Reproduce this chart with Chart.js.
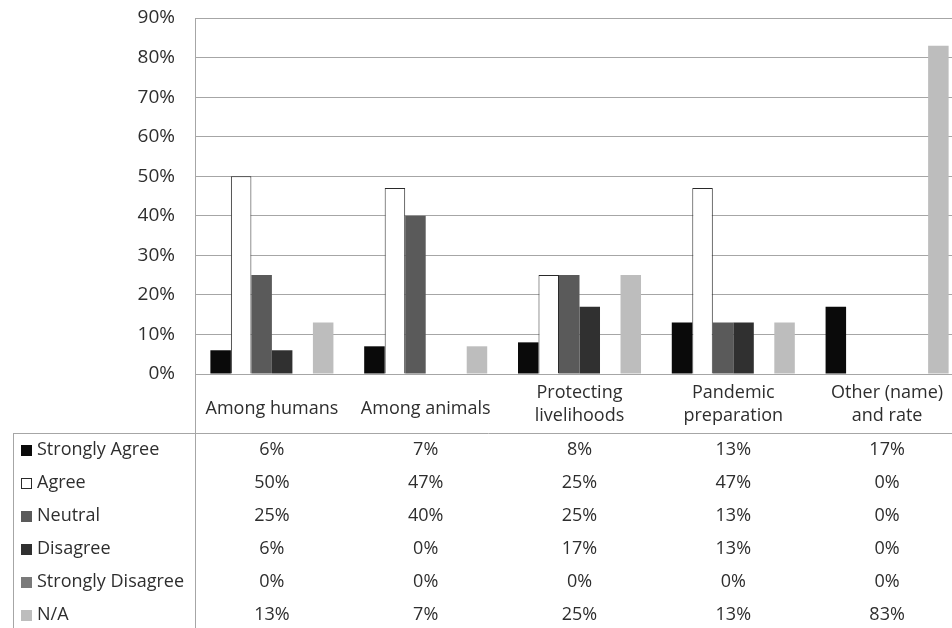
<!DOCTYPE html>
<html>
<head>
<meta charset="utf-8">
<script src="https://cdn.jsdelivr.net/npm/chart.js@4.4.1/dist/chart.umd.min.js"></script>
<style>
  html, body { margin: 0; padding: 0; background: #ffffff; overflow: hidden; }
  #wrap { position: absolute; left: 0; top: 0; width: 964px; height: 628px; }
</style>
</head>
<body>
<div id="wrap"><canvas id="c" width="964" height="628"></canvas></div>
<script>
// Response categories (multi-line where the label wraps)
const categories = [
  ['Among humans'],
  ['Among animals'],
  ['Protecting', 'livelihoods'],
  ['Pandemic', 'preparation'],
  ['Other (name)', 'and rate']
];

// Share of respondents per answer, in percent
const stronglyAgree    = [6, 7, 8, 13, 17];
const agree            = [50, 47, 25, 47, 0];
const neutral          = [25, 40, 25, 13, 0];
const disagree         = [6, 0, 17, 13, 0];
const stronglyDisagree = [0, 0, 0, 0, 0];
const notApplicable    = [13, 7, 25, 13, 83];

const seriesNames = ['Strongly Agree', 'Agree', 'Neutral', 'Disagree', 'Strongly Disagree', 'N/A'];

// Y axis ticks (percent)
const yTicks = [0, 10, 20, 30, 40, 50, 60, 70, 80, 90];

const FONT = '"Open Sans"';
const FONT_SIZE = 18;
const TEXT = '#2e2e2e';
const LINE = '#a6a6a6';

const fills   = ['#0a0a0a', '#ffffff', '#5a5a5a', '#303030', '#7a7a7a', '#bdbdbd'];
const borders = ['#0a0a0a', '#2a2a2a', '#5a5a5a', '#303030', '#7a7a7a', '#bdbdbd'];
const seriesValues = [stronglyAgree, agree, neutral, disagree, stronglyDisagree, notApplicable];

const datasets = seriesNames.map((name, i) => ({
  label: name,
  data: seriesValues[i],
  backgroundColor: fills[i],
  borderColor: borders[i],
  borderWidth: i === 1 ? 1 : 0,
  categoryPercentage: 0.8,
  barPercentage: 1.0
}));

// Category labels under the axis plus the data table with legend keys
const tablePlugin = {
  id: 'dataTable',
  afterDraw(chart) {
    const ctx = chart.ctx;
    const area = chart.chartArea;
    const xs = chart.scales.x;
    const H = chart.height, W = chart.width;
    const tableTop = area.bottom + 59;
    const rowH = 33;
    const tableLeft = 13;

    ctx.save();
    ctx.strokeStyle = LINE;
    ctx.lineWidth = 1;
    ctx.beginPath();
    // axis line continues through label band and table
    ctx.moveTo(Math.round(area.left) + 0.5, area.bottom);
    ctx.lineTo(Math.round(area.left) + 0.5, H);
    // table top edge
    ctx.moveTo(tableLeft, Math.round(tableTop) + 0.5);
    ctx.lineTo(W, Math.round(tableTop) + 0.5);
    // table left edge
    ctx.moveTo(tableLeft + 0.5, tableTop);
    ctx.lineTo(tableLeft + 0.5, H);
    ctx.stroke();

    ctx.fillStyle = TEXT;
    ctx.font = FONT_SIZE + 'px ' + FONT;
    ctx.textAlign = 'center';
    ctx.textBaseline = 'middle';
    categories.forEach((lines, i) => {
      const cx = xs.getPixelForValue(i);
      if (lines.length === 1) {
        ctx.fillText(lines[0], cx, area.bottom + 35);
      } else {
        ctx.fillText(lines[0], cx, area.bottom + 19);
        ctx.fillText(lines[1], cx, area.bottom + 42);
      }
    });

    chart.data.datasets.forEach((ds, r) => {
      const y = tableTop + 17 + r * rowH;
      // legend key
      ctx.fillStyle = ds.backgroundColor;
      ctx.fillRect(21, Math.round(y - 5.5), 11, 11);
      if (r === 1) {
        ctx.strokeStyle = '#2a2a2a';
        ctx.strokeRect(21.5, Math.round(y - 5.5) + 0.5, 10, 10);
      }
      ctx.fillStyle = TEXT;
      ctx.textAlign = 'left';
      ctx.fillText(ds.label, 37, y);
      ctx.textAlign = 'center';
      ds.data.forEach((v, i) => {
        ctx.fillText(v + '%', xs.getPixelForValue(i), y);
      });
    });
    ctx.restore();
  }
};

new Chart(document.getElementById('c'), {
  type: 'bar',
  data: { labels: categories, datasets },
  options: {
    responsive: false,
    animation: false,
    layout: { padding: { top: 18, right: 0, bottom: 195, left: 0 } },
    plugins: { legend: { display: false }, tooltip: { enabled: false } },
    scales: {
      x: {
        grid: { display: false },
        border: { display: false },
        ticks: { display: false },
        afterFit(scale) { scale.height = 59; scale.paddingLeft = 0; scale.paddingRight = 0; }
      },
      y: {
        min: 0,
        max: 90,
        afterBuildTicks(scale) { scale.ticks = yTicks.map(v => ({ value: v })); },
        ticks: {
          padding: 20,
          color: TEXT,
          font: { family: 'Open Sans', size: 19 },
          callback: v => v + '%'
        },
        grid: { color: LINE, lineWidth: 1, drawTicks: false },
        border: { display: true, color: LINE, width: 1 },
        afterFit(scale) { scale.width = 195; scale.paddingTop = 0; scale.paddingBottom = 0; }
      }
    }
  },
  plugins: [tablePlugin]
});
</script>
</body>
</html>
